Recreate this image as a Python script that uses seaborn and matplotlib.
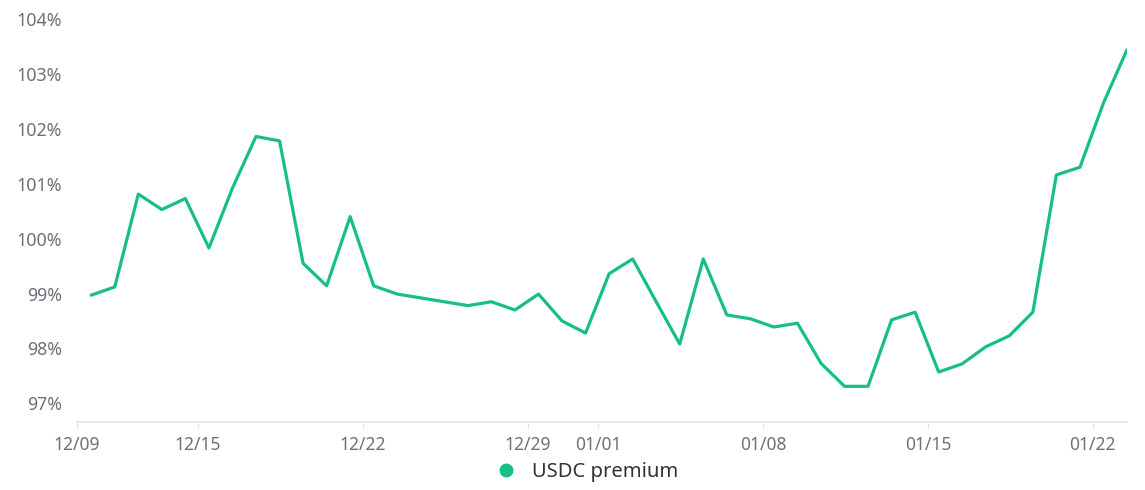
import numpy as np
import pandas as pd
import seaborn as sns
import matplotlib.pyplot as plt
from matplotlib.lines import Line2D
import matplotlib.dates as mdates

# daily USDC premium (%), one point per day starting 12/10
start = pd.Timestamp("2023-12-10 11:00")
premium = [98.97, 99.12, 100.81, 100.53, 100.73, 99.83, 100.92, 101.86, 101.78, 99.55,
           99.14, 100.40, 99.14, 98.99, 98.92, 98.85, 98.78, 98.85, 98.70, 98.99,
           98.50, 98.28, 99.36, 99.63, 98.85, 98.08, 99.63, 98.61, 98.54, 98.39,
           98.46, 97.73, 97.31, 97.31, 98.52, 98.66, 97.57, 97.72, 98.03, 98.23,
           98.66, 101.16, 101.30, 102.47, 103.44]
tick_dates = ["2023-12-15", "2023-12-22", "2023-12-29", "2024-01-01",
              "2024-01-08", "2024-01-15", "2024-01-22"]
tick_labels = ["12/15", "12/22", "12/29", "01/01", "01/08", "01/15", "01/22"]
y_ticks = [97, 98, 99, 100, 101, 102, 103, 104]

df = pd.DataFrame({"date": pd.date_range(start, periods=len(premium), freq="D"),
                   "premium": premium})

sns.set_style("white")
plt.rcParams['font.family'] = ['Noto Sans', 'DejaVu Sans']

green = "#17BE88"
grey = "#6E7079"

fig = plt.figure(figsize=(11.45, 4.9), dpi=100)
ax = fig.add_axes([77 / 1145, 1 - 422 / 490, 1050 / 1145, 403 / 490])
sns.lineplot(data=df, x="date", y="premium", ax=ax, color=green, linewidth=2.3)

x_left = pd.Timestamp("2023-12-09 20:30")
ax.set_xlim(x_left, df["date"].iloc[-1])
ax.set_ylim(96.66, 104)

ticks = [x_left] + [pd.Timestamp(d) for d in tick_dates]
ax.set_xticks([mdates.date2num(t) for t in ticks])
ax.set_xticklabels(["12/09"] + tick_labels)
ax.set_yticks(y_ticks)
ax.set_yticklabels([f"{v}%" for v in y_ticks])

ax.tick_params(axis="x", colors="#E0E6F1", labelcolor=grey, labelsize=12.5,
               length=5, width=1, direction="out", pad=5, bottom=True)
ax.tick_params(axis="y", labelcolor=grey, labelsize=12.8, length=0, pad=11)
for side in ["top", "right", "left"]:
    ax.spines[side].set_visible(False)
ax.spines["bottom"].set_color("#E0E6F1")
ax.spines["bottom"].set_linewidth(1.2)
ax.set_xlabel("")
ax.set_ylabel("")
ax.grid(False)

handle = Line2D([], [], linestyle="none", marker="o", markersize=9,
                markerfacecolor=green, markeredgecolor=green)
fig.legend([handle], ["USDC premium"], loc="center", bbox_to_anchor=(582 / 1145, 1 - 472 / 490),
           frameon=False, fontsize=14.5, labelcolor="#333333", handletextpad=0.3)

fig.savefig("out.png", dpi=100)
